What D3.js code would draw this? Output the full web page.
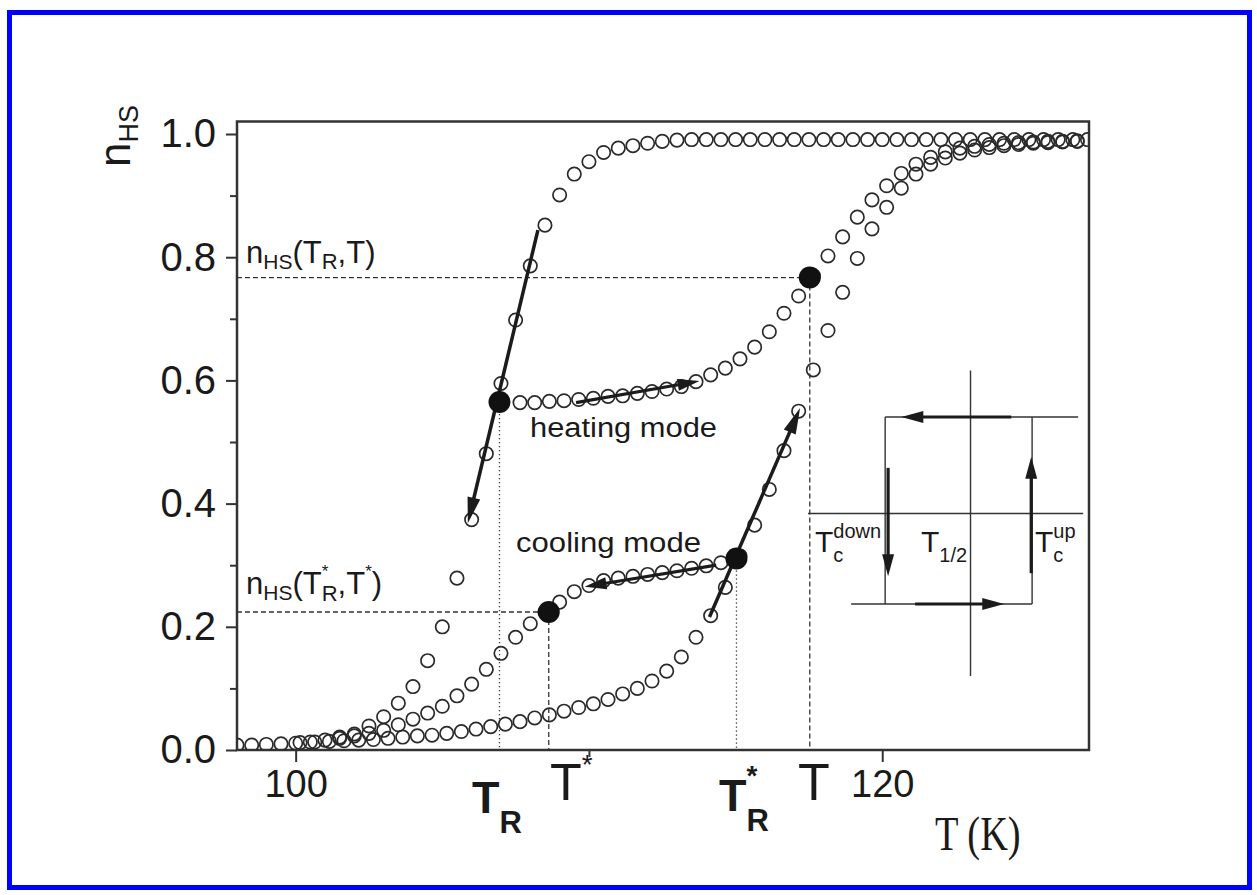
<!DOCTYPE html>
<html>
<head>
<meta charset="utf-8">
<script src="https://cdn.jsdelivr.net/npm/d3@7"></script>
<style>
  html, body { margin: 0; padding: 0; background: #fff; }
  svg { display: block; }
  text { font-family: "Liberation Sans", Arial, Helvetica, sans-serif; fill: #1a1a1a; }
</style>
</head>
<body>
<svg id="chart" width="1257" height="895"></svg>
<script>
// ---- measured HS fraction n_HS versus temperature T (K) ----

// major cooling branch (left loop side, saturates near 0.99)
const coolT = [98, 98.5, 99, 99.5, 100, 100.5, 101, 101.5, 102, 102.5, 103, 103.5, 104, 104.5,
  105, 105.5, 106, 106.5, 107, 107.5, 108, 108.5, 109, 109.5, 110, 110.5, 111, 111.5, 112, 112.5,
  113, 113.5, 114, 114.5, 115, 115.5, 116, 116.5, 117, 117.5, 118, 118.5, 119, 119.5, 120, 120.5,
  121, 121.5, 122, 122.5, 123, 123.5, 124, 124.5, 125, 125.5, 126, 126.5, 127];
const coolN = [0.008, 0.008, 0.009, 0.010, 0.011, 0.013, 0.016, 0.021, 0.026, 0.039, 0.054, 0.076, 0.103, 0.145,
  0.200, 0.279, 0.374, 0.481, 0.595, 0.698, 0.786, 0.852, 0.901, 0.935, 0.955, 0.970, 0.977, 0.981, 0.985, 0.988,
  0.990, 0.991, 0.991, 0.991, 0.991, 0.991, 0.991, 0.991, 0.991, 0.991, 0.991, 0.991, 0.991, 0.991, 0.991, 0.991,
  0.991, 0.991, 0.991, 0.991, 0.991, 0.991, 0.991, 0.991, 0.991, 0.991, 0.991, 0.991, 0.991];

// major heating branch
const heatT = [100.15, 100.65, 101.15, 101.65, 102.15, 102.65, 103.15, 103.65, 104.15, 104.65, 105.15, 105.65,
  106.15, 106.65, 107.15, 107.65, 108.15, 108.65, 109.15, 109.65, 110.15, 110.65, 111.15, 111.65, 112.15, 112.65,
  113.15, 113.65, 114.15, 114.65, 115.15, 115.65, 116.15, 116.65, 117.15, 117.65, 118.15, 118.65, 119.15, 119.65,
  120.15, 120.65, 121.15, 121.65, 122.15, 122.65, 123.15, 123.65, 124.15, 124.65, 125.15, 125.65, 126.15, 126.65];
const heatN = [0.012, 0.013, 0.014, 0.015, 0.016, 0.017, 0.019, 0.021, 0.023, 0.024, 0.027, 0.030,
  0.034, 0.038, 0.042, 0.046, 0.052, 0.057, 0.063, 0.069, 0.075, 0.082, 0.091, 0.100, 0.112, 0.128,
  0.151, 0.183, 0.218, 0.264, 0.315, 0.365, 0.423, 0.486, 0.550, 0.617, 0.681, 0.743, 0.798, 0.846,
  0.881, 0.912, 0.935, 0.951, 0.961, 0.969, 0.974, 0.978, 0.981, 0.983, 0.985, 0.986, 0.987, 0.988];

// minor curve: heating started from T_R on the cooling branch
const minorHeatT = [107.65, 108.15, 108.65, 109.15, 109.65, 110.15, 110.65, 111.15, 111.65, 112.15, 112.65,
  113.15, 113.65, 114.15, 114.65, 115.15, 115.65, 116.15, 116.65, 117.15, 117.65, 118.15, 118.65, 119.15,
  119.65, 120.15, 120.65, 121.15, 121.65, 122.15, 122.65, 123.15, 123.65, 124.15, 124.65, 125.15, 125.65,
  126.15, 126.65];
const minorHeatN = [0.564, 0.564, 0.566, 0.567, 0.569, 0.571, 0.574, 0.575, 0.579, 0.582, 0.586,
  0.590, 0.598, 0.609, 0.620, 0.635, 0.654, 0.679, 0.709, 0.737, 0.770, 0.802, 0.833, 0.865,
  0.893, 0.916, 0.936, 0.951, 0.962, 0.971, 0.977, 0.980, 0.983, 0.985, 0.986, 0.987, 0.988,
  0.988, 0.989];

// minor curve: cooling started from T_R* on the heating branch
const minorCoolT = [101.5, 102, 102.5, 103, 103.5, 104, 104.5, 105, 105.5, 106, 106.5, 107, 107.5, 108,
  108.5, 109, 109.5, 110, 110.5, 111, 111.5, 112, 112.5, 113, 113.5, 114, 114.5];
const minorCoolN = [0.019, 0.023, 0.027, 0.032, 0.041, 0.050, 0.060, 0.071, 0.088, 0.107, 0.131, 0.157, 0.183, 0.205,
  0.224, 0.240, 0.257, 0.267, 0.275, 0.279, 0.282, 0.285, 0.288, 0.291, 0.295, 0.299, 0.304];

// highlighted states: T_R, T*, T_R*, T
const keyT = [106.95, 108.63, 115.03, 117.53];
const keyN = [0.565, 0.224, 0.311, 0.767];

// axis ticks
const yMajor = [0, 0.2, 0.4, 0.6, 0.8, 1.0];
const yMinor = [0.1, 0.3, 0.5, 0.7, 0.9];
const xMajor = [100, 120];
const xMinor = [110];

// ---- drawing ----
const svg = d3.select("#chart");
const x = d3.scaleLinear().domain([98, 127.05]).range([237, 1089]);
const y = d3.scaleLinear().domain([0, 1.0203]).range([750, 121.5]);
const ink = "#1b1b1b";

// outer blue frame
svg.append("rect").attr("x", 9.5).attr("y", 12.5).attr("width", 1240).attr("height", 875)
  .attr("fill", "none").attr("stroke", "#0000ff").attr("stroke-width", 5);

// axes with outward ticks
const yAxis = d3.axisLeft(y).tickValues(yMajor).tickSize(11).tickFormat(d3.format(".1f")).tickPadding(10);
const yAxisMinor = d3.axisLeft(y).tickValues(yMinor).tickSize(7).tickFormat("");
const xAxis = d3.axisBottom(x).tickValues(xMajor).tickSize(12).tickFormat(d3.format("d")).tickPadding(8);
const xAxisMinor = d3.axisBottom(x).tickValues(xMinor).tickSize(7).tickFormat("");

function styleAxis(g) {
  g.select(".domain").remove();
  g.selectAll(".tick line").attr("stroke", "#333").attr("stroke-width", 2);
  g.selectAll(".tick text").attr("fill", "#222").style("font-family", "'Liberation Sans', Arial, sans-serif");
}
svg.append("g").attr("transform", `translate(${x(98)},0)`).call(yAxis).call(styleAxis)
  .selectAll(".tick text").style("font-size", "40px");
svg.append("g").attr("transform", `translate(${x(98)},0)`).call(yAxisMinor).call(styleAxis);
svg.append("g").attr("transform", `translate(0,${y(0)})`).call(xAxis).call(styleAxis)
  .selectAll(".tick text").style("font-size", "38px").attr("dy", "0.71em");
svg.append("g").attr("transform", `translate(0,${y(0)})`).call(xAxisMinor).call(styleAxis);

// plot frame
svg.append("rect").attr("x", x(98)).attr("y", y(1.0203)).attr("width", x(127.05) - x(98))
  .attr("height", y(0) - y(1.0203)).attr("fill", "none").attr("stroke", "#333").attr("stroke-width", 2.5);

const plot = svg.append("g");
svg.append("clipPath").attr("id", "plotclip").append("rect")
  .attr("x", x(98)).attr("y", y(1.0203)).attr("width", x(127.05) - x(98)).attr("height", y(0) - y(1.0203));

// guide lines from the highlighted states
function guide(x1, y1, x2, y2, dash) {
  plot.append("line").attr("x1", x1).attr("y1", y1).attr("x2", x2).attr("y2", y2)
    .attr("stroke", "#333").attr("stroke-width", 1.3).attr("stroke-dasharray", dash);
}
const dashed = "5,3", dotted = "1.4,2.6";
guide(x(98), y(keyN[3]), x(keyT[3]), y(keyN[3]), dashed);
guide(x(keyT[3]), y(keyN[3]), x(keyT[3]), y(0), dashed);
guide(x(98), y(keyN[1]), x(keyT[1]), y(keyN[1]), dashed);
guide(x(keyT[1]), y(keyN[1]), x(keyT[1]), y(0), dashed);
guide(x(keyT[0]), y(keyN[0]), x(keyT[0]), y(0), dotted);
guide(x(keyT[2]), y(keyN[2]), x(keyT[2]), y(0), dotted);

// open-circle data series
const series = [[coolT, coolN], [heatT, heatN], [minorHeatT, minorHeatN], [minorCoolT, minorCoolN]];
const dots = plot.append("g").attr("clip-path", "url(#plotclip)");
series.forEach(([ts, ns]) => {
  dots.selectAll(null).data(ts.map((t, i) => [t, ns[i]])).enter().append("circle")
    .attr("cx", d => x(d[0])).attr("cy", d => y(d[1])).attr("r", 6.7)
    .attr("fill", "none").attr("stroke", "#2a2a2a").attr("stroke-width", 1.7);
});

// arrows along the branches
function arrow(g, t0, n0, t1, n1, opt) {
  const o = Object.assign({ w: 3.5, len: 26, half: 6.5 }, opt || {});
  const X0 = x(t0), Y0 = y(n0), X1 = x(t1), Y1 = y(n1);
  const dx = X1 - X0, dy = Y1 - Y0, L = Math.hypot(dx, dy), ux = dx / L, uy = dy / L;
  const bx = X1 - ux * o.len, by = Y1 - uy * o.len;
  g.append("line").attr("x1", X0).attr("y1", Y0).attr("x2", bx + ux * 2).attr("y2", by + uy * 2)
    .attr("stroke", ink).attr("stroke-width", o.w).attr("stroke-linecap", "butt");
  g.append("path").attr("d", `M${X1},${Y1}L${bx - uy * o.half},${by + ux * o.half}L${bx + uy * o.half},${by - ux * o.half}Z`)
    .attr("fill", ink);
}
arrow(plot, 108.26, 0.844, 105.87, 0.368);
arrow(plot, 114.11, 0.216, 117.2, 0.555);
arrow(plot, 109.56, 0.564, 113.77, 0.599, { w: 3.2, len: 22, half: 6 });
arrow(plot, 114.34, 0.300, 109.85, 0.265, { w: 3.2, len: 22, half: 6 });

// filled markers for the highlighted states
plot.selectAll(null).data(keyT.map((t, i) => [t, keyN[i]])).enter().append("circle")
  .attr("cx", d => x(d[0])).attr("cy", d => y(d[1])).attr("r", 11).attr("fill", "#111");

// rich text: one <text> element, segments as positioned tspans (sub/sup, optional stacking)
function rich(g, X, Y, segs, base) {
  const t = g.append("text").style("font-weight", base.bold ? "bold" : "normal");
  if (base.family) t.style("font-family", base.family);
  let cx = X, lastStart = X, lastEnd = X;
  segs.forEach(s => {
    const size = s.size || base.size;
    const start = (s.stack ? lastStart : cx) + (s.dx || 0);
    const sp = t.append("tspan").attr("x", start).attr("y", Y + (s.dy || 0))
      .style("font-size", size + "px").text(s.s);
    const w = sp.node().getComputedTextLength();
    if (s.stack) { cx = Math.max(lastEnd, start + w); }
    else { lastStart = start; lastEnd = start + w; cx = start + w; }
  });
  return t;
}

// curve labels
rich(svg, 246, 263, [{ s: "n" }, { s: "HS", size: 21, dy: 6 }, { s: "(T" }, { s: "R", size: 22, dy: 6 }, { s: ",T)" }], { size: 31 });
rich(svg, 246, 594, [{ s: "n" }, { s: "HS", size: 21, dy: 6 }, { s: "(T" }, { s: "*", size: 17, dy: -17 },
  { s: "R", size: 22, dy: 7, stack: true }, { s: ",T" }, { s: "*", size: 17, dy: -17 }, { s: ")" }], { size: 31 });
svg.append("text").attr("x", 530).attr("y", 437).style("font-size", "27px")
  .attr("textLength", 187).attr("lengthAdjust", "spacingAndGlyphs").text("heating mode");
svg.append("text").attr("x", 516).attr("y", 552).style("font-size", "27px")
  .attr("textLength", 185).attr("lengthAdjust", "spacingAndGlyphs").text("cooling mode");

// temperature labels under the axis
rich(svg, 472, 813, [{ s: "T" }, { s: "R", size: 31, dy: 20 }], { size: 45, bold: true });
rich(svg, 550, 800, [{ s: "T" }, { s: "*", size: 28, dy: -26 }], { size: 52 });
rich(svg, 719, 811, [{ s: "T" }, { s: "*", size: 28, dy: -26 }, { s: "R", size: 31, dy: 20, stack: true }], { size: 45, bold: true });
rich(svg, 798, 800, [{ s: "T" }], { size: 52 });

// axis titles
svg.append("text").attr("transform", "translate(935,850) scale(0.8,1)")
  .style("font-family", "'Liberation Serif', 'Times New Roman', serif")
  .style("font-size", "48px").text("T (K)");
const yt = svg.append("g").attr("transform", "translate(130,167) rotate(-90)");
rich(yt, 0, 0, [{ s: "n" }, { s: "HS", size: 27, dy: 8 }], { size: 44 });

// hysteresis schematic
const sk = svg.append("g");
function thin(t0, n0, t1, n1) {
  sk.append("line").attr("x1", x(t0)).attr("y1", y(n0)).attr("x2", x(t1)).attr("y2", y(n1))
    .attr("stroke", "#333").attr("stroke-width", 1.4);
}
thin(120.10, 0.5406, 126.68, 0.5406);
thin(118.94, 0.237, 125.11, 0.237);
thin(120.10, 0.5406, 120.10, 0.237);
thin(125.11, 0.5406, 125.11, 0.237);
thin(123.01, 0.616, 123.01, 0.120);
thin(117.47, 0.384, 126.85, 0.384);
arrow(sk, 124.4, 0.5406, 120.65, 0.5406, { w: 3.2, len: 22, half: 6 });
arrow(sk, 120.2, 0.458, 120.2, 0.282, { w: 3.2, len: 22, half: 6 });
arrow(sk, 121.12, 0.237, 124.16, 0.237, { w: 3.2, len: 22, half: 6 });
arrow(sk, 125.08, 0.287, 125.08, 0.476, { w: 3.2, len: 22, half: 6 });
rich(svg, 815, 552, [{ s: "T" }, { s: "down", size: 20, dy: -14 }, { s: "c", size: 20, dy: 10, stack: true }], { size: 30 });
rich(svg, 921, 552, [{ s: "T" }, { s: "1/2", size: 20, dy: 10 }], { size: 30 });
rich(svg, 1035, 552, [{ s: "T" }, { s: "up", size: 20, dy: -14 }, { s: "c", size: 20, dy: 10, stack: true }], { size: 30 });
</script>
</body>
</html>
